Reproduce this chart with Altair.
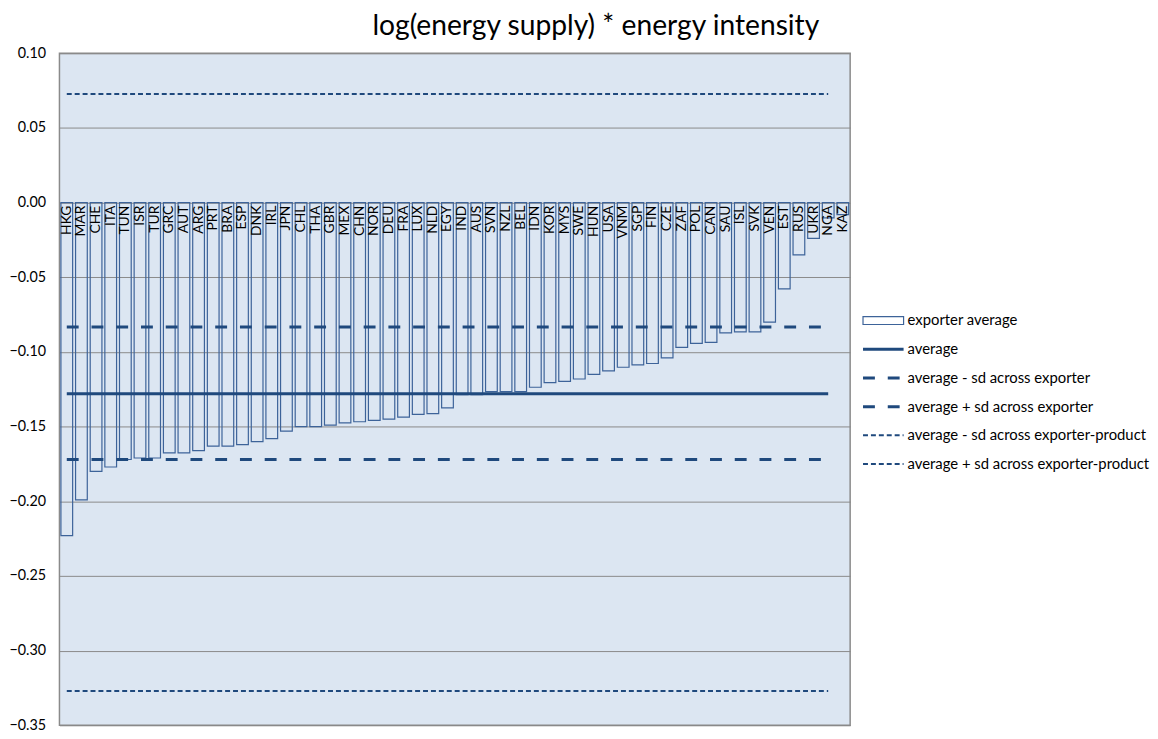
import altair as alt
import pandas as pd

FONT = "Lato"
BAR = "#3d6399"
LINE = "#1f497d"
GRID = "#8a8a8a"
BG = "#dce6f2"

countries = ["HKG", "MAR", "CHE", "ITA", "TUN", "ISR", "TUR", "GRC", "AUT", "ARG",
             "PRT", "BRA", "ESP", "DNK", "IRL", "JPN", "CHL", "THA", "GBR", "MEX",
             "CHN", "NOR", "DEU", "FRA", "LUX", "NLD", "EGY", "IND", "AUS", "SVN",
             "NZL", "BEL", "IDN", "KOR", "MYS", "SWE", "HUN", "USA", "VNM", "SGP",
             "FIN", "CZE", "ZAF", "POL", "CAN", "SAU", "ISL", "SVK", "VEN", "EST",
             "RUS", "UKR", "NGA", "KAZ"]
exporter_avg = [-0.223, -0.199, -0.180, -0.177, -0.172, -0.171, -0.171, -0.1675, -0.1675, -0.166,
                -0.163, -0.163, -0.162, -0.160, -0.158, -0.153, -0.150, -0.150, -0.149, -0.1475,
                -0.1467, -0.1458, -0.145, -0.1436, -0.1418, -0.1413, -0.1374, -0.1285, -0.1285, -0.1265,
                -0.1265, -0.1265, -0.1236, -0.1205, -0.1197, -0.1181, -0.115, -0.1126, -0.1102, -0.1086,
                -0.1077, -0.104, -0.0969, -0.0942, -0.0936, -0.0872, -0.0865, -0.0865, -0.080, -0.0577,
                -0.035, -0.0239, -0.0102, -0.008]

ref_names = ["average", "average - sd across exporter", "average + sd across exporter",
             "average - sd across exporter-product", "average + sd across exporter-product"]
ref_values = [-0.128, -0.172, -0.0832, -0.327, 0.0728]
ref_style = ["solid", "exporter", "exporter", "product", "product"]

legend_labels = ["exporter average"] + ref_names
legend_kind = ["bar"] + ref_style

y_ticks = [0.10, 0.05, 0.00, -0.05, -0.10, -0.15, -0.20, -0.25, -0.30, -0.35]

df = pd.DataFrame({"country": countries, "value": exporter_avg})

# reference lines span the category axis from the first to the second-to-last country
line_rows = []
for n, v, s in zip(ref_names, ref_values, ref_style):
    for c in countries[:-1]:
        line_rows.append({"name": n, "value": v, "style": s, "country": c})
ref_df = pd.DataFrame(line_rows)

xenc = alt.X("country:N", sort=countries,
             scale=alt.Scale(paddingInner=0.2, paddingOuter=0.1), axis=None)
yscale = alt.Scale(domain=[-0.35, 0.10], nice=False, zero=False)

bars = alt.Chart(df).mark_bar(fill="transparent", stroke=BAR, strokeWidth=1.2).encode(
    x=xenc,
    y=alt.Y("value:Q", scale=yscale, title=None,
            axis=alt.Axis(values=y_ticks, format=".2f", ticks=False, domain=False,
                          labelPadding=14, gridColor=GRID, gridWidth=1,
                          labelFontSize=14.5, labelFont=FONT, labelColor="#000")),
    y2=alt.datum(0),
)

labels = alt.Chart(df).mark_text(angle=270, align="right", baseline="middle", dx=-3,
                                 fontSize=14, font=FONT, color="#000").encode(
    x=xenc, y=alt.datum(0), text="country:N")

def ref_layer(style, **mk):
    return alt.Chart(ref_df).transform_filter(alt.datum.style == style).mark_line(
        color=LINE, **mk).encode(x=xenc, y="value:Q", detail="name:N")

solid = ref_layer("solid", strokeWidth=3)
exp_l = ref_layer("exporter", strokeWidth=3, strokeDash=[12, 13])
prod_l = ref_layer("product", strokeWidth=2, strokeDash=[5, 3])

main = alt.layer(bars, solid, exp_l, prod_l, labels).properties(
    width=799, height=679,
    view=alt.ViewBackground(fill=BG, stroke=GRID, strokeWidth=1.5))

# legend panel
leg_df = pd.DataFrame({"label": legend_labels, "kind": legend_kind,
                       "idx": list(range(len(legend_labels)))})
lx = alt.Scale(domain=[0, 290])
ly = alt.Scale(domain=[0, 679], reverse=True)
leg_base = alt.Chart(leg_df).transform_calculate(
    ypos="270 + 29 * datum.idx", ya="270 + 29 * datum.idx - 4", yb="270 + 29 * datum.idx + 4",
    xa="1", xb="42", xt="46")

leg_rect = leg_base.transform_filter(alt.datum.kind == "bar").mark_rect(
    fill="white", stroke=BAR, strokeWidth=1.2).encode(
    x=alt.X("xa:Q", scale=lx, axis=None), x2="xb:Q",
    y=alt.Y("ya:Q", scale=ly, axis=None), y2="yb:Q")

def leg_line(kind, **mk):
    return leg_base.transform_filter(alt.datum.kind == kind).mark_rule(color=LINE, **mk).encode(
        x=alt.X("xa:Q", scale=lx, axis=None), x2="xb:Q",
        y=alt.Y("ypos:Q", scale=ly, axis=None))

leg_solid = leg_line("solid", strokeWidth=3)
leg_exp = leg_line("exporter", strokeWidth=3, strokeDash=[12, 13])
leg_prod = leg_line("product", strokeWidth=2, strokeDash=[5, 3])

leg_text = leg_base.mark_text(align="left", baseline="middle", fontSize=15, font=FONT,
                              color="#000").encode(
    x=alt.X("xt:Q", scale=lx, axis=None), y=alt.Y("ypos:Q", scale=ly, axis=None),
    text="label:N")

legend = alt.layer(leg_rect, leg_solid, leg_exp, leg_prod, leg_text).properties(
    width=290, height=679,
    view=alt.ViewBackground(fill="white", stroke="transparent"))

chart = alt.hconcat(main, legend, spacing=10).properties(
    padding=0,
    title=alt.TitleParams("log(energy supply) * energy intensity", fontSize=28.5, font=FONT,
                          fontWeight="normal", color="#000", anchor="middle", offset=4, dx=17),
).resolve_scale(x="independent", y="independent")

chart.save("out.html", embed_options={"renderer": "svg", "actions": False})
